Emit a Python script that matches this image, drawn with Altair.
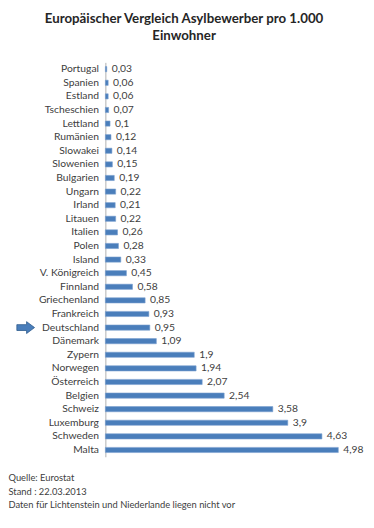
import altair as alt
import pandas as pd

countries = ["Portugal", "Spanien", "Estland", "Tscheschien", "Lettland", "Rumänien",
             "Slowakei", "Slowenien", "Bulgarien", "Ungarn", "Irland", "Litauen",
             "Italien", "Polen", "Island", "V. Königreich", "Finnland", "Griechenland",
             "Frankreich", "Deutschland", "Dänemark", "Zypern", "Norwegen", "Österreich",
             "Belgien", "Schweiz", "Luxemburg", "Schweden", "Malta"]
values = [0.03, 0.06, 0.06, 0.07, 0.1, 0.12, 0.14, 0.15, 0.19, 0.22, 0.21, 0.22,
          0.26, 0.28, 0.33, 0.45, 0.58, 0.85, 0.93, 0.95, 1.09, 1.9, 1.94, 2.07,
          2.54, 3.58, 3.9, 4.63, 4.98]
highlight = ["Deutschland"]

title_lines = ["Europäischer Vergleich Asylbewerber pro 1.000", "Einwohner"]
footer_lines = ["Quelle: Eurostat", "Stand  : 22.03.2013",
                "Daten für Lichtenstein und Niederlande liegen nicht vor"]

df = pd.DataFrame({"land": countries, "wert": values})
hl = pd.DataFrame({"land": highlight})

FONT = "Lato"
TXT = "#404040"

y_enc = alt.Y("land:N", sort=None,
              scale=alt.Scale(domain=countries, paddingInner=0.62, paddingOuter=0.31),
              axis=alt.Axis(title=None, ticks=False, labelPadding=7, labelFontSize=10.5,
                            labelColor=TXT, labelFont=FONT, domainColor="#b0b0b0",
                            domainWidth=1))
x_enc = alt.X("wert:Q", scale=alt.Scale(domain=[0, 5.32], nice=False, zero=True),
              axis=alt.Axis(domain=False, labels=False, ticks=False, grid=False,
                            title=footer_lines, titleAnchor="start", titleAlign="left",
                            titleBaseline="top", titleX=-99, titleY=16,
                            titleFontSize=9.5, titleFontWeight="normal", titleFont=FONT,
                            titleColor=TXT, titleLineHeight=14))

bars = alt.Chart(df).mark_bar(color="#4a7ebb", stroke="#7aa0d0", strokeWidth=0.6).encode(
    x=x_enc, y=y_enc)

labels = alt.Chart(df).transform_calculate(
    lab="replace(toString(datum.wert), '.', ',')"
).mark_text(align="left", baseline="middle", dx=5, fontSize=10.5, font=FONT,
            color=TXT).encode(x="wert:Q", y=alt.Y("land:N", sort=None), text="lab:N")

arrow_path = "M-1,-0.33 L0.1,-0.33 L0.1,-0.67 L1,0 L0.1,0.67 L0.1,0.33 L-1,0.33 Z"
arrow = alt.Chart(hl).mark_point(shape=arrow_path, filled=True, fill="#4a7ebb",
                                 stroke="#2c5a8c", strokeWidth=0.8, size=324,
                                 opacity=1).encode(
    y=alt.Y("land:N", sort=None), x=alt.value(-81))

chart = alt.layer(bars, labels, arrow).properties(
    width=253, height=401,
    padding={"left": 99, "top": 51, "right": 12, "bottom": 60},
    autosize=alt.AutoSizeParams(type="none"),
    title=alt.TitleParams(text=title_lines, anchor="middle", dx=-46.5, offset=20,
                          fontSize=13.5, fontWeight="bold", font=FONT,
                          color="#262626", lineHeight=18),
).configure_view(stroke=None)

chart.save("out.html", embed_options={"renderer": "svg", "actions": False})
